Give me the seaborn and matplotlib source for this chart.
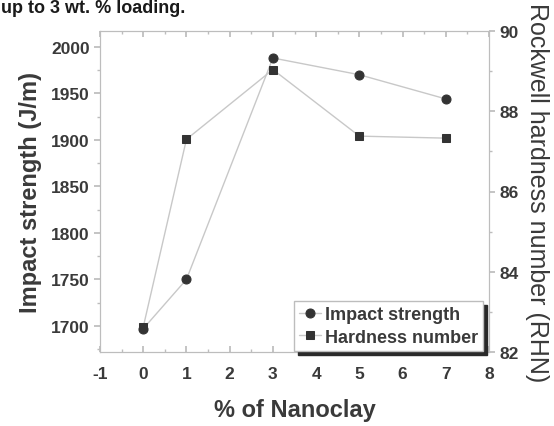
import matplotlib
matplotlib.use("Agg")
import matplotlib.pyplot as plt
import seaborn as sns
import pandas as pd
from matplotlib.ticker import MultipleLocator

nanoclay = [0, 1, 3, 5, 7]
impact_strength = [1697, 1750, 1988, 1970, 1944]
hardness_number = [82.62, 87.3, 89.04, 87.38, 87.33]
left_ticks = [1700, 1750, 1800, 1850, 1900, 1950, 2000]
right_ticks = [82, 84, 86, 88, 90]
x_ticks = [-1, 0, 1, 2, 3, 4, 5, 6, 7, 8]

sns.set_theme(style="white")
plt.rcParams['font.family'] = ['Liberation Sans', 'DejaVu Sans']
plt.rcParams['axes.unicode_minus'] = False

df1 = pd.DataFrame({"x": nanoclay, "y": impact_strength})
df2 = pd.DataFrame({"x": nanoclay, "y": hardness_number})

fig = plt.figure(figsize=(5.54, 4.27), dpi=100)
ax = fig.add_axes([100/554, 1-353/427, 389/554, 321/427])
ax2 = ax.twinx()

line_c = "#c8c8c8"
mark_c = "#333333"
sns.lineplot(data=df1, x="x", y="y", ax=ax, color=line_c, lw=1.0,
             marker="o", markersize=6.5, markerfacecolor=mark_c,
             markeredgecolor=mark_c, label="Impact strength", legend=False)
sns.lineplot(data=df2, x="x", y="y", ax=ax2, color=line_c, lw=1.0,
             marker="s", markersize=6, markerfacecolor=mark_c,
             markeredgecolor=mark_c, label="Hardness number", legend=False)

ax.set_xlim(-1, 8)
ax.set_ylim(1672, 2017)
ax2.set_ylim(82, 90)
ax.set_xticks(x_ticks)
ax.set_yticks(left_ticks)
ax2.set_yticks(right_ticks)
ax.xaxis.set_minor_locator(MultipleLocator(0.5))
ax.yaxis.set_minor_locator(MultipleLocator(25))
ax2.yaxis.set_minor_locator(MultipleLocator(1))

for a in (ax, ax2):
    for s in a.spines.values():
        s.set_color("#bdbdbd")
        s.set_linewidth(0.8)

tc = "#3a3a3a"
ax.tick_params(axis="x", which="both", direction="in", top=True, bottom=True,
               color="#bdbdbd", labelsize=12.5, labelcolor=tc, pad=10)
ax.tick_params(axis="x", which="major", length=4)
ax.tick_params(axis="x", which="minor", length=2.5)
ax.tick_params(axis="y", which="both", direction="out", left=True,
               color="#bdbdbd", labelsize=12.5, labelcolor=tc)
ax.tick_params(axis="y", which="major", length=4)
ax.tick_params(axis="y", which="minor", length=2.5)
ax2.tick_params(axis="y", which="both", direction="out", right=True,
                color="#bdbdbd", labelsize=12.5, labelcolor=tc)
ax2.tick_params(axis="y", which="major", length=4)
ax2.tick_params(axis="y", which="minor", length=2.5)
for lbl in ax.get_xticklabels() + ax.get_yticklabels() + ax2.get_yticklabels():
    lbl.set_fontweight("bold")

ax.set_xlabel("% of Nanoclay", fontsize=17, fontweight="bold", color=tc, labelpad=12)
ax.set_ylabel("Impact strength (J/m)", fontsize=17, fontweight="bold", color=tc, labelpad=6)
ax2.set_ylabel("Rockwell hardness number (RHN)", fontsize=18, color=tc,
               rotation=-90, labelpad=22)

h1, l1 = ax.get_legend_handles_labels()
h2, l2 = ax2.get_legend_handles_labels()
leg = ax2.legend(h1 + h2, l1 + l2, loc="lower right", bbox_to_anchor=(0.985, 0.003),
                 frameon=True, fancybox=False, edgecolor="#bdbdbd",
                 shadow={"color": "#2a2a2a", "alpha": 1.0, "ox": 3, "oy": -3},
                 prop={"weight": "bold", "size": 13}, handlelength=1.2,
                 handletextpad=0.2, borderpad=0.3, labelspacing=0.3,
                 borderaxespad=0)
for t in leg.get_texts():
    t.set_color(tc)

fig.text(0.002, 0.999, "up to 3 wt. % loading.", fontsize=13, fontweight="bold",
         color="#1a1a1a", va="top", ha="left")

fig.savefig("out.png", dpi=100)
